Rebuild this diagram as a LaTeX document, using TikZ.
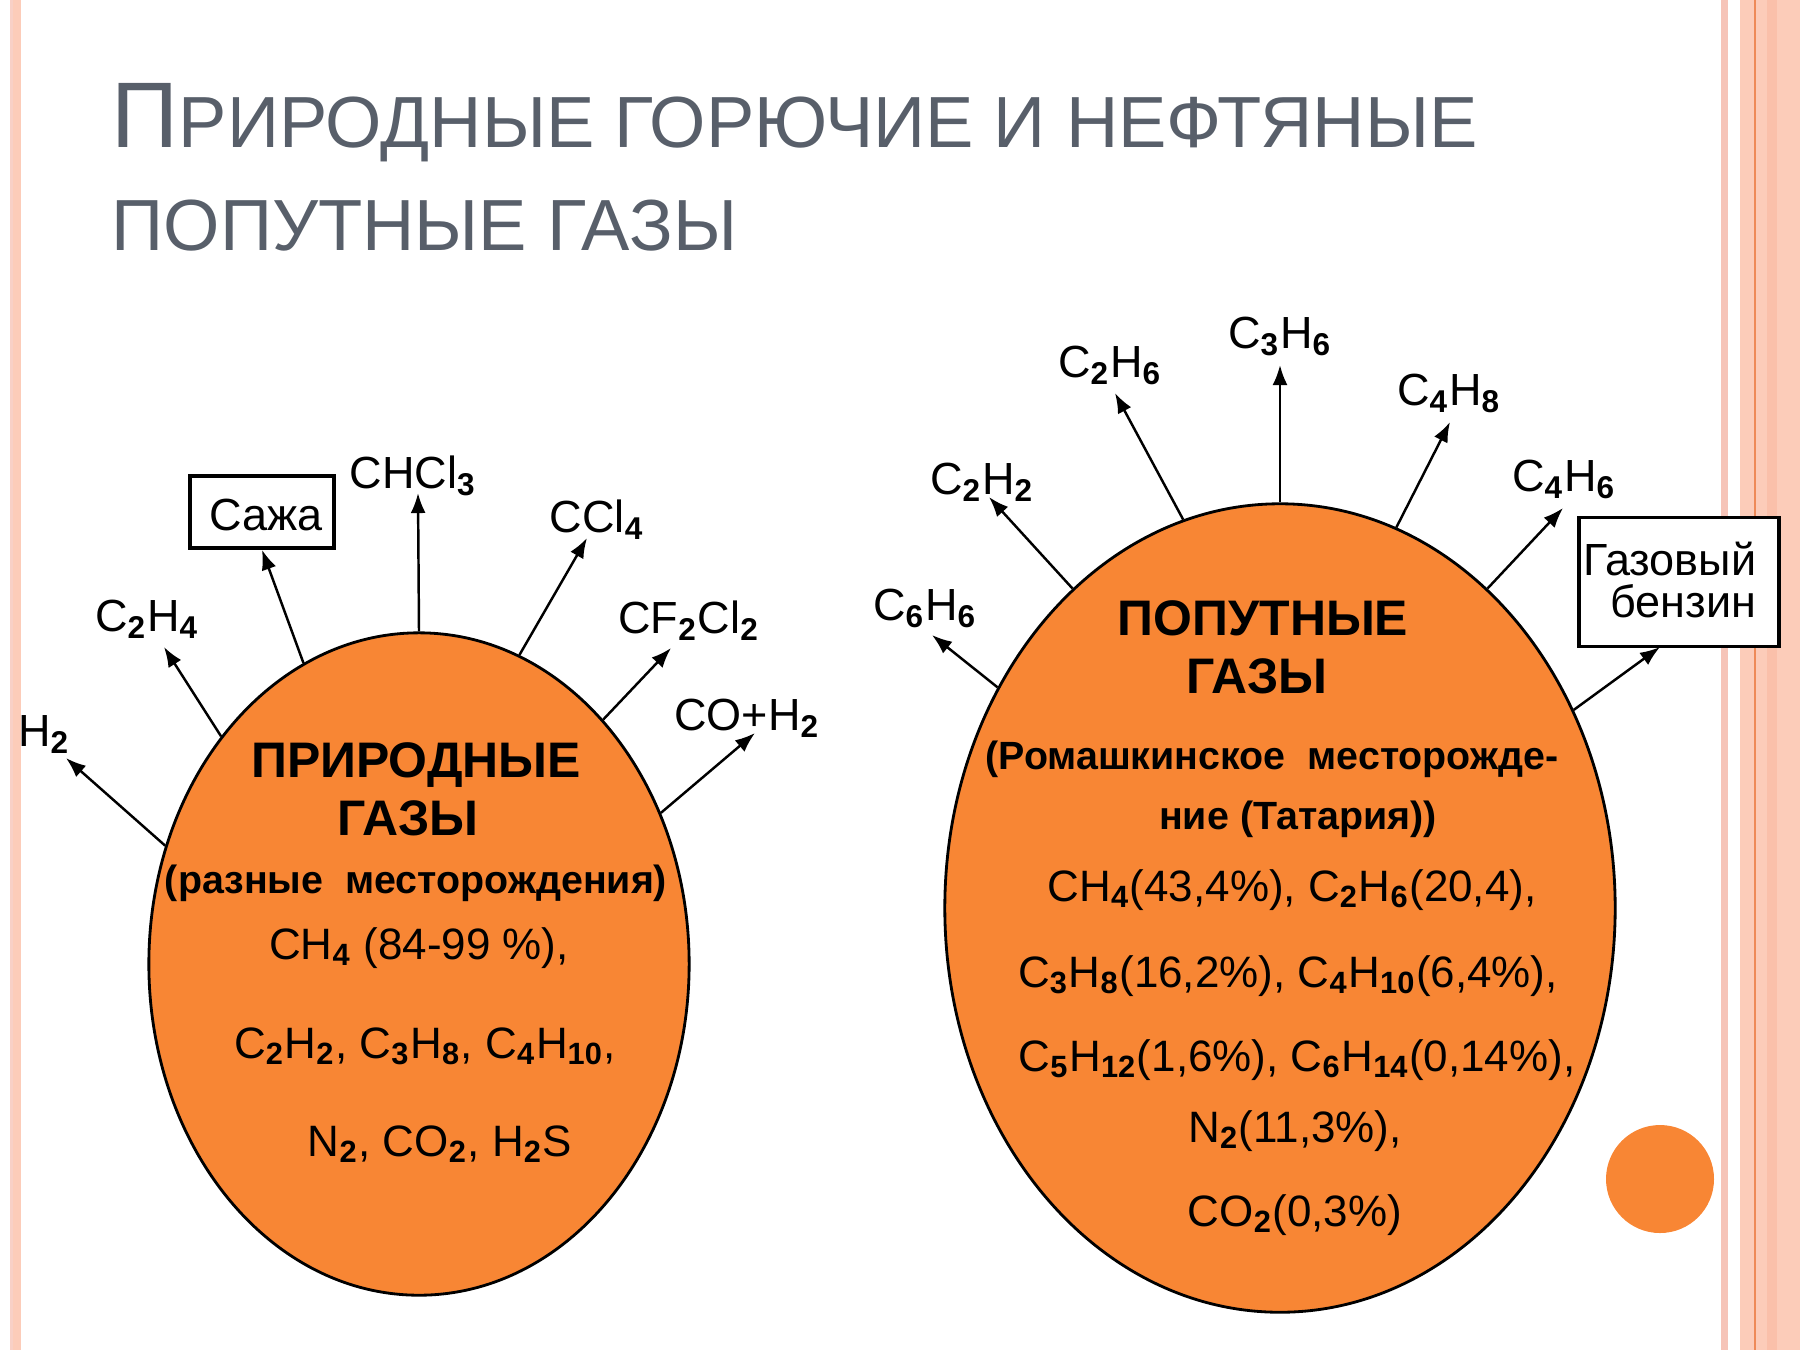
\documentclass[tikz,border=0pt]{standalone}
\usepackage{fontspec}
\setmainfont{Liberation Sans}
\usetikzlibrary{arrows.meta,shapes.geometric}

\definecolor{gasorange}{RGB}{248,134,52}
\definecolor{titlegrey}{RGB}{88,95,106}
\definecolor{stripepink}{RGB}{246,196,184}
\definecolor{stripepeach}{RGB}{252,204,185}
\definecolor{stripeband}{RGB}{250,192,170}
\definecolor{stripeline}{RGB}{238,138,88}

\newcommand{\chemsub}[1]{\textsubscript{\textbf{#1}}}

\begin{document}
\begin{tikzpicture}
    [
        x = 0.01cm, y = -0.01cm,
        gas/.style      = {ellipse, draw, line width=0.8pt, fill=gasorange, inner sep=0pt},
        title/.style    = {anchor=base west, inner sep=0pt, text=titlegrey, font=\fontsize{20.6}{24}\selectfont},
        product/.style  = {anchor=base, inner sep=0pt, font=\fontsize{12.8}{12.2}\selectfont},
        result/.style   = {draw, line width=1pt, fill=white, inner sep=0pt},
        heading/.style  = {anchor=base, inner sep=0pt, font=\bfseries\fontsize{14.2}{16}\selectfont},
        field/.style    = {anchor=base, inner sep=0pt, font=\bfseries\fontsize{11.2}{14}\selectfont},
        content/.style  = {anchor=base, inner sep=0pt, font=\fontsize{12.5}{15}\selectfont},
        yield/.style    = {-{Latex[length=2mm,width=1.5mm]}, line width=0.7pt}
    ]
    \useasboundingbox (0,0) rectangle (1800,1350);

    % page stripes
    \fill [stripepink!80] (10,0) rectangle (13,1350);
    \fill [stripepeach] (13,0) rectangle (21,1350);
    \fill [stripepink] (1721,0) rectangle (1728,1350);
    \fill [stripepeach] (1740,0) rectangle (1800,1350);
    \fill [stripeband] (1767,0) rectangle (1777,1350);
    \fill [stripeline] (1754,0) rectangle (1756,1350);
    \fill [gasorange] (1660,1179) circle [radius=54];

    % title
    \node [title] (titleA) at (111,147) {{\fontsize{26.5}{30}\selectfont П}РИРОДНЫЕ ГОРЮЧИЕ И НЕФТЯНЫЕ};
    \node [title] (titleB) at (111,250) {ПОПУТНЫЕ ГАЗЫ};

    % natural gases
    \node [gas, minimum width=5.4cm, minimum height=6.62cm] (natural) at (419,964) {};
    \node [heading] (naturalA) at (416,777) {ПРИРОДНЫЕ};
    \node [heading] (naturalB) at (408,835) {ГАЗЫ};
    \node [field] (naturalC) at (416,893) {(разные\ \ месторождения)};
    \node [content] (naturalD) at (419,959) {CH\chemsub{4} (84-99 \%),};
    \node [content] (naturalE) at (425,1058) {C\chemsub{2}H\chemsub{2}, C\chemsub{3}H\chemsub{8}, C\chemsub{4}H\chemsub{10},};
    \node [content] (naturalF) at (440,1156) {N\chemsub{2}, CO\chemsub{2}, H\chemsub{2}S};

    \node [product] (hydrogen) at (44,746) {H\chemsub{2}};
    \node [product] (ethylene) at (147,631) {C\chemsub{2}H\chemsub{4}};
    \node [result, minimum width=1.44cm, minimum height=0.72cm] (soot) at (262,512) {};
    \node [product] (sootText) at (266,530) {Сажа};
    \node [product] (chloroform) at (413,488) {CHCl\chemsub{3}};
    \node [product] (tetrachlor) at (597,532) {CCl\chemsub{4}};
    \node [product] (freon) at (689,633) {CF\chemsub{2}Cl\chemsub{2}};
    \node [product] (syngas) at (747,730) {CO+H\chemsub{2}};

    \coordinate (hydrogenTip) at (66,758);
    \coordinate (ethyleneTip) at (164,647);
    \coordinate (chloroformTip) at (418,493);
    \coordinate (tetrachlorTip) at (587,538);
    \coordinate (freonTip) at (671,648);
    \coordinate (syngasTip) at (755,733);

    \draw [yield] (natural.155) -- (hydrogenTip);
    \draw [yield] (natural.131) -- (ethyleneTip);
    \draw [yield] (natural.111) -- (soot.south);
    \draw [yield] (natural.90) -- (chloroformTip);
    \draw [yield] (natural.72) -- (tetrachlorTip);
    \draw [yield] (natural.53) -- (freonTip);
    \draw [yield] (natural.32) -- (syngasTip);

    % associated gases
    \node [gas, minimum width=6.7cm, minimum height=8.08cm] (associated) at (1280,908) {};
    \node [heading] (associatedA) at (1263,635) {ПОПУТНЫЕ};
    \node [heading] (associatedB) at (1257,693) {ГАЗЫ};
    \node [field] (associatedC) at (1272,769) {(Ромашкинское\ \ месторожде-};
    \node [field] (associatedD) at (1298,829) {ние (Татария))};
    \node [content] (associatedE) at (1292,901) {CH\chemsub{4}(43,4\%), C\chemsub{2}H\chemsub{6}(20,4),};
    \node [content] (associatedF) at (1288,987) {C\chemsub{3}H\chemsub{8}(16,2\%), C\chemsub{4}H\chemsub{10}(6,4\%),};
    \node [content] (associatedG) at (1297,1071) {C\chemsub{5}H\chemsub{12}(1,6\%), C\chemsub{6}H\chemsub{14}(0,14\%),};
    \node [content] (associatedH) at (1295,1142) {N\chemsub{2}(11,3\%),};
    \node [content] (associatedI) at (1295,1226) {CO\chemsub{2}(0,3\%)};

    \node [product] (benzene) at (925,620) {C\chemsub{6}H\chemsub{6}};
    \node [product] (acetylene) at (982,494) {C\chemsub{2}H\chemsub{2}};
    \node [product] (ethane) at (1110,377) {C\chemsub{2}H\chemsub{6}};
    \node [product] (propylene) at (1280,348) {C\chemsub{3}H\chemsub{6}};
    \node [product] (butylene) at (1449,405) {C\chemsub{4}H\chemsub{8}};
    \node [product] (butadiene) at (1564,491) {C\chemsub{4}H\chemsub{6}};
    \node [result, minimum width=2cm, minimum height=1.29cm] (gasoline) at (1679,582) {};
    \node [product, anchor=east, align=right] (gasolineText) at (1757,580) {Газовый\\бензин};

    \coordinate (benzeneTip) at (932,635);
    \coordinate (acetyleneTip) at (989,497);
    \coordinate (ethaneTip) at (1115,393);
    \coordinate (propyleneTip) at (1280,365);
    \coordinate (butyleneTip) at (1450,422);
    \coordinate (butadieneTip) at (1563,508);
    \coordinate (gasolineTip) at (1660,647);

    \draw [yield] (associated.142) -- (benzeneTip);
    \draw [yield] (associated.123) -- (acetyleneTip);
    \draw [yield] (associated.104) -- (ethaneTip);
    \draw [yield] (associated.90) -- (propyleneTip);
    \draw [yield] (associated.73) -- (butyleneTip);
    \draw [yield] (associated.57) -- (butadieneTip);
    \draw [yield] (associated.34) -- (gasolineTip);
\end{tikzpicture}
\end{document}
